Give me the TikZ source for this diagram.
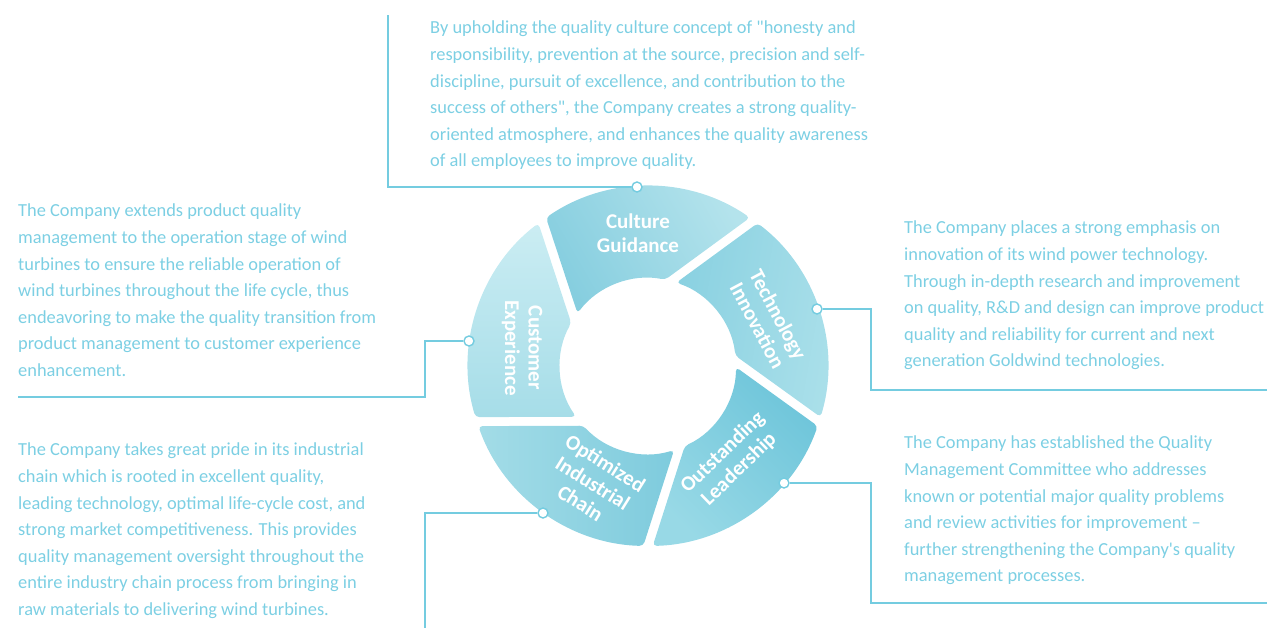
\documentclass[tikz,border=0pt]{standalone}
\usepackage{fontspec}
\setmainfont{Carlito}[Ligatures=TeXOff]
\definecolor{txt}{HTML}{7CCFE3}
\definecolor{lin}{HTML}{74CCE0}
\definecolor{cuA}{HTML}{CBEDF3}
\definecolor{cuB}{HTML}{A6DDE8}
\definecolor{clA}{HTML}{B4E3EC}
\definecolor{clB}{HTML}{86CEDF}
\definecolor{teA}{HTML}{ABE0EA}
\definecolor{teB}{HTML}{8AD1E1}
\definecolor{olA}{HTML}{6EC5DA}
\definecolor{olB}{HTML}{98D9E6}
\definecolor{opA}{HTML}{7ECBDD}
\definecolor{opB}{HTML}{A3DCE7}
\newcommand\ringseg[2]{%
  \shade[#2, rounded corners=4pt]
    ({127.51+#1}:180pt) arc[start angle={127.51+#1}, end angle={196.50+#1}, radius=180pt]
    -- ({215.23+#1}:88pt) arc[start angle={215.23+#1}, end angle={150.75+#1}, radius=88pt]
    -- cycle;}
\begin{document}
\begin{tikzpicture}[x=1pt,y=1pt,
  body/.style={anchor=north west, inner sep=0pt, align=left, text=txt,
    font=\fontsize{18.4}{26.6}\selectfont},
  seglabel/.style={inner sep=0pt, align=center, text=white,
    font=\fontsize{21}{23.5}\selectfont\bfseries},
  conn/.style={draw=lin, line width=1.4pt},
  dot/.style={circle, draw=lin, fill=white, line width=1.4pt, minimum size=10pt, inner sep=0pt}]
\useasboundingbox (0,0) rectangle (1267,-628);
% ring segments
\begin{scope}[shift={(648,-366)}]
  \ringseg{0}{top color=cuA, bottom color=cuB}
  \ringseg{-72}{top color=clA, bottom color=clB, shading angle=-60}
  \ringseg{-144}{top color=teA, bottom color=teB, shading angle=-100}
  \ringseg{-216}{top color=olA, bottom color=olB, shading angle=-45}
  \ringseg{-288}{top color=opA, bottom color=opB, shading angle=-90}
\end{scope}
% segment labels
\node[seglabel] (lcul) at (638,-233) {Culture\\Guidance};
\node[seglabel, rotate=-62] (ltec) at (768,-320) {Technology\\Innovation};
\node[seglabel, rotate=-90] (lcus) at (522,-348) {Customer\\Experience};
\node[seglabel, rotate=-32] (lopt) at (593,-483) {Optimized\\Industrial\\Chain};
\node[seglabel, rotate=44] (lout) at (731,-461) {Outstanding\\Leadership};
% text blocks
\node[body] (tcul) at (430,-21) {By upholding the quality culture concept of "honesty and\\
responsibility, prevention at the source, precision and self-\\
discipline, pursuit of excellence, and contribution to the\\
success of others", the Company creates a strong quality-\\
oriented atmosphere, and enhances the quality awareness\\
of all employees to improve quality.};
\node[body] (tcus) at (18,-204) {The Company extends product quality\\
management to the operation stage of wind\\
turbines to ensure the reliable operation of\\
wind turbines throughout the life cycle, thus\\
endeavoring to make the quality transition from\\
product management to customer experience\\
enhancement.};
\node[body] (ttec) at (904,-221) {The Company places a strong emphasis on\\
innovation of its wind power technology.\\
Through in-depth research and improvement\\
on quality, R\&D and design can improve product\\
quality and reliability for current and next\\
generation Goldwind technologies.};
\node[body] (topt) at (18,-443) {The Company takes great pride in its industrial\\
chain which is rooted in excellent quality,\\
leading technology, optimal life-cycle cost, and\\
strong market competitiveness. This provides\\
quality management oversight throughout the\\
entire industry chain process from bringing in\\
raw materials to delivering wind turbines.};
\node[body] (tout) at (904,-436) {The Company has established the Quality\\
Management Committee who addresses\\
known or potential major quality problems\\
and review activities for improvement –\\
further strengthening the Company's quality\\
management processes.};
% connector corner / end points
\coordinate (cc1) at (388,-15);
\coordinate (tc0) at (871,-309);
\coordinate (tc1) at (1267,-390);
\coordinate (cu0) at (425,-341);
\coordinate (cu1) at (18,-397);
\coordinate (oi1) at (425,-628);
\coordinate (ol0) at (871,-483);
\coordinate (ol1) at (1267,-603);
% dots
\node[dot] (dcul) at (637,-187) {};
\node[dot] (dtec) at (817,-309) {};
\node[dot] (dcus) at (469,-341) {};
\node[dot] (dopt) at (543,-513) {};
\node[dot] (dout) at (784,-483) {};
% connectors
\draw[conn] (dcul.west) -| (cc1);
\draw[conn] (dtec.east) -- (tc0) |- (tc1);
\draw[conn] (dcus.west) -- (cu0) |- (cu1);
\draw[conn] (dopt.west) -| (oi1);
\draw[conn] (dout.east) -- (ol0) |- (ol1);
\end{tikzpicture}
\end{document}
